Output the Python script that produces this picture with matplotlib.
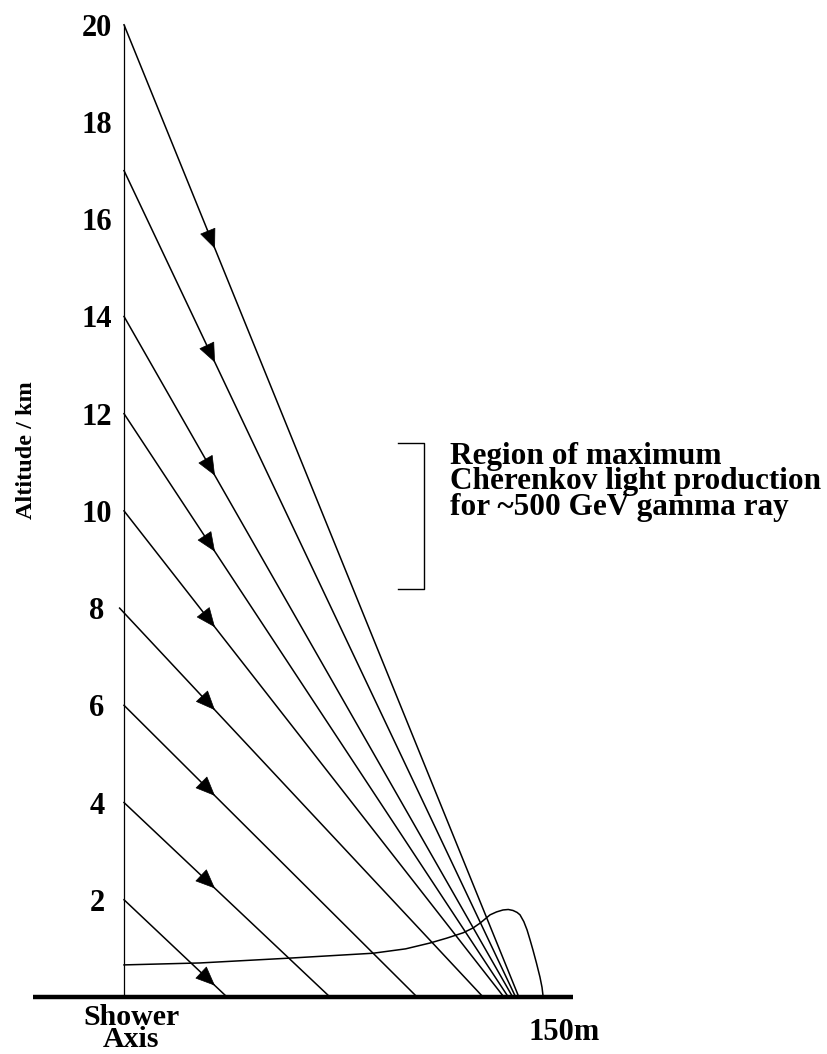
import matplotlib
matplotlib.use("Agg")
import matplotlib.pyplot as plt
import numpy as np

plt.rcParams['font.family'] = ['Liberation Serif', 'DejaVu Serif']
plt.rcParams['font.weight'] = 'bold'

# ---- data ----
start_alt_km = [2, 4, 6, 8, 10, 12, 14, 17, 20]          # altitude of emission on shower axis
start_x_m = [0, 0, 0, -1.5, 0, 0, 0, 0, 0]                # start offset from axis
ground_x_m = [35.1, 70.2, 99.9, 122.4, 129.5, 131.0, 132.5, 133.5, 134.6]  # landing distance
arrow_x_m = 31.0                                          # arrowhead position along x

curve_x_m = [0, 25.9, 56.6, 84.9, 96.0, 104.3, 110.0, 115.6, 119.0, 121.4, 123.2, 124.8,
             127.0, 129.2, 131.0, 132.6, 134.0, 135.0, 136.3, 137.4, 138.4, 139.4,
             140.6, 141.8, 142.5, 142.9]
curve_alt = [0.66, 0.70, 0.80, 0.90, 0.99, 1.11, 1.21, 1.32, 1.42, 1.52, 1.61, 1.69,
             1.75, 1.79, 1.80, 1.78, 1.74, 1.69, 1.55, 1.38, 1.18, 0.97,
             0.70, 0.41, 0.20, 0.0]

yticks = [2, 4, 6, 8, 10, 12, 14, 16, 18, 20]
bracket_alt = [8.4, 11.4]
ground_extent_m = [-31, 153]
label_150 = 150

fig = plt.figure(figsize=(8.28, 10.54), dpi=100)
ax = fig.add_axes([0, 0, 1, 1])
ax.set_xlim(-42.28, 240.0)
ax.set_ylim(-1.173, 20.51)

for s in ['top', 'right', 'bottom']:
    ax.spines[s].set_visible(False)
ax.spines['left'].set_position(('data', 0))
ax.spines['left'].set_bounds(0, 20)
ax.spines['left'].set_linewidth(0.9)
ax.set_xticks([])
ax.set_yticks(yticks)
ax.set_yticklabels([str(t) for t in yticks], fontsize=22, fontweight='bold', ha='center')
ax.tick_params(axis='y', length=0, pad=19.5)

# ground
ax.plot(ground_extent_m, [0, 0], color='black', lw=3.2, solid_capstyle='butt', zorder=5)

# rays with arrows
for sx, a, gx in zip(start_x_m, start_alt_km, ground_x_m):
    ax.plot([sx, gx], [a, 0], color='black', lw=1.1)
    t1 = (arrow_x_m - sx) / (gx - sx)
    t0 = t1 - 0.02
    p1 = (sx + t1 * (gx - sx), a * (1 - t1))
    p0 = (sx + t0 * (gx - sx), a * (1 - t0))
    ax.annotate('', xy=p1, xytext=p0,
                arrowprops=dict(arrowstyle='-|>,head_length=1.3,head_width=0.55',
                                mutation_scale=10, color='black', lw=0.5,
                                shrinkA=0, shrinkB=0))

# lateral distribution curve
ax.plot(curve_x_m, curve_alt, color='black', lw=1.1, solid_joinstyle='round')

# bracket
bx_v = 102.3
bx_h = 93.4
ax.plot([bx_h, bx_v, bx_v, bx_h], [bracket_alt[1], bracket_alt[1], bracket_alt[0], bracket_alt[0]],
        color='black', lw=1.0)

ax.text(111.1, 10.6, "Region of maximum\nCherenkov light production\nfor ~500 GeV gamma ray",
        fontsize=22.5, fontweight='bold', ha='left', va='center', linespacing=0.85)

# axis label
ax.text(-33.1, 11.26, "Altitude / km", rotation=90, fontsize=17.5, fontweight='bold',
        ha='center', va='center')

# bottom labels
ax.text(2.4, -1.16, "Shower\nAxis", fontsize=21.5, fontweight='bold', ha='center',
        va='bottom', linespacing=0.8, multialignment='center')
ax.text(label_150, -0.885, "150m", fontsize=22, fontweight='bold', ha='center', va='baseline')

fig.savefig('out.png', dpi=100)
